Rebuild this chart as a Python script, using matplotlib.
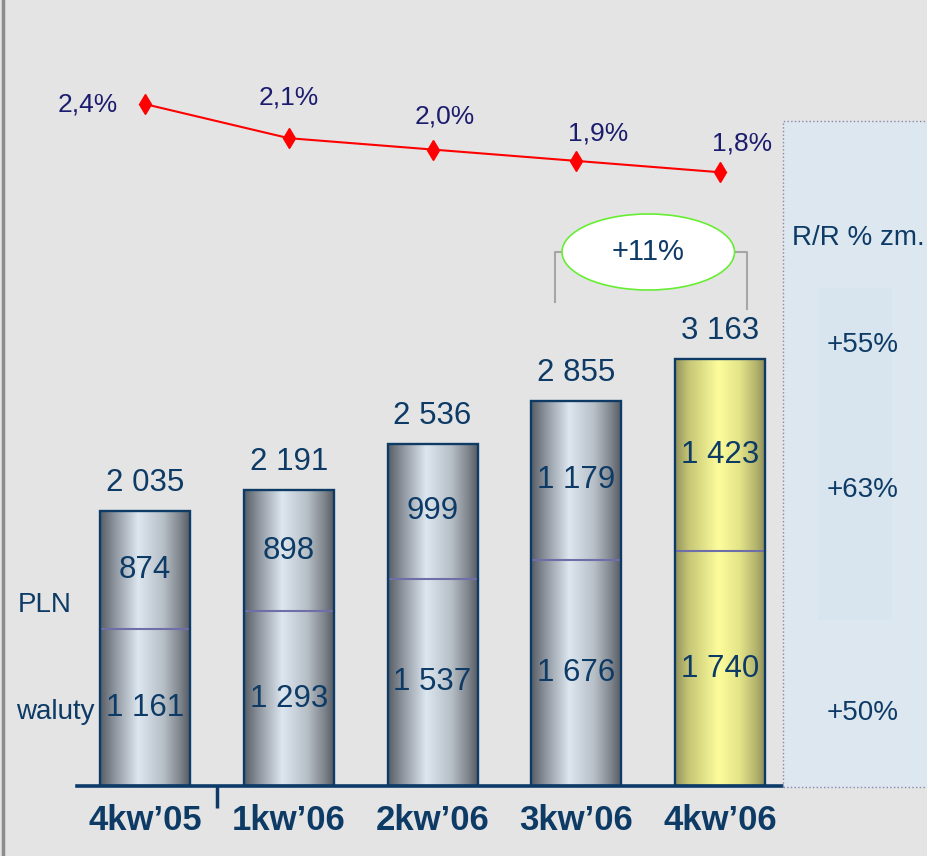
import numpy as np
import matplotlib
matplotlib.use("Agg")
import matplotlib.pyplot as plt
from matplotlib.colors import LinearSegmentedColormap
from matplotlib.patches import Ellipse, Rectangle
from matplotlib.lines import Line2D

plt.rcParams['font.family'] = ['Liberation Sans', 'DejaVu Sans']

# data
quarters = ['4kw\u201905', '1kw\u201906', '2kw\u201906', '3kw\u201906', '4kw\u201906']
waluty = [1161, 1293, 1537, 1676, 1740]
pln = [874, 898, 999, 1179, 1423]
ratio = [2.4, 2.1, 2.0, 1.9, 1.8]
ratio_labels = ['2,4%', '2,1%', '2,0%', '1,9%', '1,8%']
yoy_labels = ['+55%', '+63%', '+50%']
growth_label = '+11%'

navy = '#0d3b66'
ink = '#1c1c6e'
W, H = 928, 856

totals = [a + b for a, b in zip(waluty, pln)]
x = np.arange(len(quarters))

fig = plt.figure(figsize=(W / 100, H / 100), dpi=100, facecolor='#e4e4e4')
ax = fig.add_axes([77.4 / W, 70 / H, 704.6 / W, 786 / H])
ax.set_facecolor('none')

silver = LinearSegmentedColormap.from_list('silver', [
    (0.0, '#565d65'), (0.15, '#8a919a'), (0.42, '#dde7f0'),
    (0.7, '#b6bec6'), (0.88, '#80868e'), (1.0, '#53585f')])
yellow = LinearSegmentedColormap.from_list('yellow', [
    (0.0, '#93935a'), (0.15, '#c6c676'), (0.48, '#fdfd9c'),
    (0.72, '#e2e288'), (0.9, '#b2b26c'), (1.0, '#8b8b58')])
grad = np.linspace(0, 1, 256).reshape(1, -1)

bw = 0.626
lower = ax.bar(x, waluty, bw, facecolor='none', edgecolor='none')
upper = ax.bar(x, pln, bw, bottom=waluty, facecolor='none', edgecolor='none')
outline = ax.bar(x, totals, bw, facecolor='none', edgecolor=navy, linewidth=1.7, zorder=4)

for i, (lo, up, ol) in enumerate(zip(lower, upper, outline)):
    x0 = lo.get_x()
    x1 = x0 + lo.get_width()
    top = up.get_y() + up.get_height()
    cmap = yellow if i == len(quarters) - 1 else silver
    im = ax.imshow(grad, cmap=cmap, extent=[x0, x1, 0, top], aspect='auto',
                   interpolation='bilinear', zorder=2)
    im.set_clip_path(ol)
    ax.plot([x0, x1], [waluty[i], waluty[i]], color='#6e6ea8', lw=1.5, zorder=3)
    ax.annotate(f'{totals[i]:,}'.replace(',', ' '), (x[i], totals[i]),
                xytext=(0, 20), textcoords='offset points', ha='center', va='center',
                fontsize=22.5, color=navy)
    ax.text(x[i], waluty[i] / 2, f'{waluty[i]:,}'.replace(',', ' '),
            ha='center', va='center', fontsize=22.5, color=navy, zorder=5)
    ax.text(x[i], waluty[i] + pln[i] / 2, f'{pln[i]:,}'.replace(',', ' '),
            ha='center', va='center', fontsize=22.5, color=navy, zorder=5)

ax.set_xlim(-0.47, 4.43)
ax.set_ylim(0, 786 / 0.135)

for s in ['top', 'left', 'right']:
    ax.spines[s].set_visible(False)
ax.spines['bottom'].set_color('#0c3a6a')
ax.spines['bottom'].set_linewidth(2.6)
ax.set_yticks([])
ax.set_xticks(x, quarters, fontsize=25, fontweight='bold', color=navy)
ax.tick_params(axis='x', which='major', length=0, pad=13)
ax.set_xticks([0.5], minor=True)
ax.tick_params(axis='x', which='minor', length=16, width=2.5, color='#0c3a6a', direction='out')

# ratio line (2.04% sits 711 px above the figure bottom, 113.6 px per 1 pt)
ax2 = ax.twinx()
ax2.set_ylim(2.04 - 641 / 113.6, 2.04 + 145 / 113.6)
ax2.axis('off')
ax2.plot(x, ratio, color='red', lw=1.5, marker='d', markersize=10, zorder=5)
offsets = [(-41, 0), (0, 29), (9, 24), (16, 20), (16, 21)]
for xi, r, lab, off in zip(x, ratio, ratio_labels, offsets):
    ax2.annotate(lab, (xi, r), xytext=off, textcoords='offset points',
                 ha='center', va='center', fontsize=19, color=ink)

# growth ellipse and bracket
yc = (786 - 252) / 0.135
ax.add_patch(Ellipse((3.5, yc), 1.2, 76 / 0.135, facecolor='white',
                     edgecolor='#66ee33', lw=1.2, zorder=6, clip_on=False))
ax.text(3.5, yc, growth_label, ha='center', va='center', fontsize=21, color=navy, zorder=7)
ax.plot([2.9, 2.85, 2.85], [yc, yc, (786 - 302) / 0.135], color='#a6a6a6', lw=1.5, zorder=5)
ax.plot([4.1, 4.19, 4.19], [yc, yc, (786 - 309) / 0.135], color='#a6a6a6', lw=1.5, zorder=5)

# left border
fig.add_artist(Line2D([3 / W, 3 / W], [0, 1], color='#8c8c8c', lw=2.5))

# right panel
fig.add_artist(Rectangle((783 / W, 69 / H), 150 / W, 666 / H, facecolor='#dde7ef',
                         edgecolor='#8888aa', lw=1, linestyle=':', zorder=1))
fig.add_artist(Rectangle((818 / W, (H - 620) / H), 74 / W, 332 / H, facecolor='#d9e5ee',
                         edgecolor='none', zorder=1))
fig.text(858 / W, 1 - 238 / H, 'R/R % zm.', ha='center', va='center', fontsize=20, color=navy, zorder=3)
for lab, yp in zip(yoy_labels, [345, 490, 713]):
    fig.text(863 / W, 1 - yp / H, lab, ha='center', va='center', fontsize=20, color=navy, zorder=3)

fig.text(45 / W, 1 - 605 / H, 'PLN', ha='center', va='center', fontsize=20, color=navy)
fig.text(55 / W, 1 - 712 / H, 'waluty', ha='center', va='center', fontsize=20, color=navy)

fig.savefig('out.png', dpi=100, facecolor=fig.get_facecolor())
